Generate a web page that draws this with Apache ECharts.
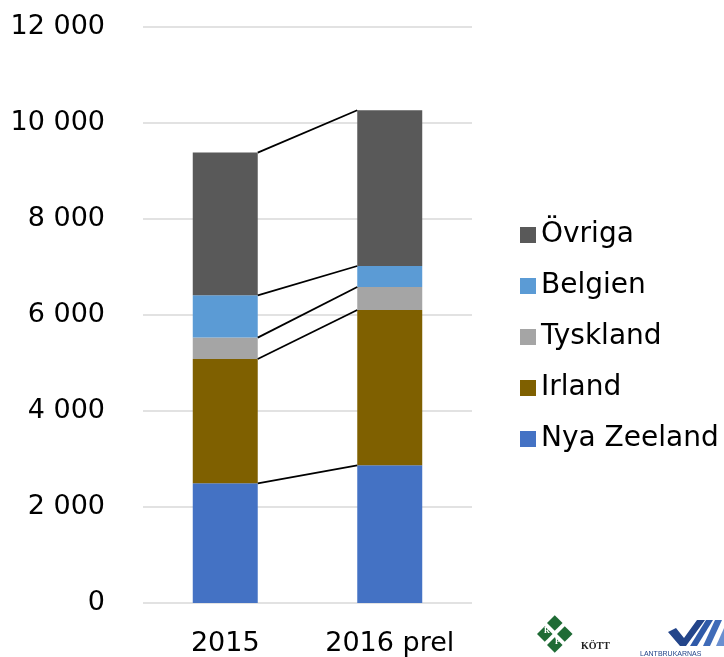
<!DOCTYPE html>
<html lang="sv">

<head>
    <meta charset="UTF-8">
    <title>Import</title>
    <script src="https://cdn.jsdelivr.net/npm/echarts@6/dist/echarts.min.js"></script>
    <style>
        html, body { margin: 0; padding: 0; background: #fff; }
    </style>
</head>

<body>
    <div id="chart" style="width: 724px; height: 657px;"></div>

    <script>
        // data (ton)
        var years = ['2015', '2016 prel'];
        var seriesNames = ['Nya Zeeland', 'Irland', 'Tyskland', 'Belgien', 'Övriga'];
        var nyaZeeland = [2494, 2869];
        var irland = [2589, 3235];
        var tyskland = [446, 479];
        var belgien = [881, 438];
        var ovriga = [2973, 3244];
        var colors = ['#4472C4', '#7F6000', '#A5A5A5', '#5B9BD5', '#595959'];

        var values = [nyaZeeland, irland, tyskland, belgien, ovriga];
        var barShare = 0.395;

        // cumulative tops for the series lines between the bars
        var tops = [];
        var sum0 = 0, sum1 = 0;
        for (var i = 0; i < values.length; i++) {
            sum0 += values[i][0];
            sum1 += values[i][1];
            tops.push([sum0, sum1]);
        }

        var series = [];
        for (var i = 0; i < seriesNames.length; i++) {
            series.push({
                name: seriesNames[i],
                type: 'bar',
                stack: 'total',
                barWidth: (barShare * 100) + '%',
                itemStyle: { color: colors[i] },
                data: values[i]
            });
        }
        series.push({
            type: 'custom',
            name: 'serieslinjer',
            silent: true,
            z: 5,
            data: tops,
            renderItem: function (params, api) {
                var p1 = api.coord([0, api.value(0)]);
                var p2 = api.coord([1, api.value(1)]);
                var hw = api.size([1, 0])[0] * barShare / 2;
                return {
                    type: 'line',
                    shape: { x1: p1[0] + hw, y1: p1[1], x2: p2[0] - hw, y2: p2[1] },
                    style: { stroke: '#000', lineWidth: 1.8 }
                };
            },
            encode: { x: -1, y: [0, 1] }
        });

        var chart = echarts.init(document.getElementById('chart'));
        var option = {
            animation: false,
            textStyle: { fontFamily: 'DejaVu Sans, sans-serif' },
            grid: { left: 143, right: 252, top: 27, bottom: 54 },
            legend: {
                data: seriesNames.slice().reverse(),
                orient: 'vertical',
                left: 515,
                top: 216,
                icon: 'rect',
                itemWidth: 16,
                itemHeight: 16,
                itemGap: 23,
                textStyle: { fontSize: 28, color: '#000', padding: [0, 0, 0, 0] }
            },
            xAxis: {
                type: 'category',
                data: years,
                axisLine: { show: false },
                axisTick: { show: false },
                axisLabel: { fontSize: 27, color: '#000', margin: 27, interval: 0 }
            },
            yAxis: {
                type: 'value',
                min: 0,
                max: 12000,
                interval: 2000,
                axisLine: { show: false },
                axisTick: { show: false },
                splitLine: { lineStyle: { color: '#D9D9D9', width: 1.5 } },
                axisLabel: {
                    fontSize: 27,
                    color: '#000',
                    margin: 38,
                    formatter: function (v) {
                        return String(v).replace(/\B(?=(\d{3})+(?!\d))/g, ' ');
                    }
                }
            },
            graphic: [
                // LRF Kött logo
                { type: 'rect', rotation: Math.PI / 4, x: 547, y: 623, shape: { x: 0, y: 0, width: 11, height: 11 }, style: { fill: '#1F6B35' } },
                { type: 'rect', rotation: Math.PI / 4, x: 537, y: 634, shape: { x: 0, y: 0, width: 11, height: 11 }, style: { fill: '#1F6B35' } },
                { type: 'rect', rotation: Math.PI / 4, x: 557, y: 634, shape: { x: 0, y: 0, width: 11, height: 11 }, style: { fill: '#1F6B35' } },
                { type: 'rect', rotation: Math.PI / 4, x: 547, y: 645, shape: { x: 0, y: 0, width: 11, height: 11 }, style: { fill: '#1F6B35' } },
                { type: 'text', x: 544, y: 627, style: { text: 'R', fill: '#fff', font: 'bold 8px Liberation Serif' } },
                { type: 'text', x: 534, y: 638, style: { text: 'L', fill: '#fff', font: 'bold 8px Liberation Serif' } },
                { type: 'text', x: 555, y: 638, style: { text: 'F', fill: '#fff', font: 'bold 8px Liberation Serif' } },
                { type: 'text', x: 581, y: 641, style: { text: 'KÖTT', fill: '#222', font: 'bold 10px Liberation Serif' } },
                // check logo
                { type: 'polygon', shape: { points: [[668, 632], [676, 628], [684, 638], [697, 620], [705, 620], [686, 646], [680, 646]] }, style: { fill: '#23458A' } },
                { type: 'polygon', shape: { points: [[690, 646], [706, 620], [713, 620], [697, 646]] }, style: { fill: '#2F5AA8' } },
                { type: 'polygon', shape: { points: [[703, 646], [715, 620], [722, 620], [710, 646]] }, style: { fill: '#3F6BB8' } },
                { type: 'polygon', shape: { points: [[716, 646], [724, 628], [724, 646]] }, style: { fill: '#6A8FD0' } },
                { type: 'text', x: 640, y: 651, style: { text: 'LANTBRUKARNAS', fill: '#23458A', font: '7px Liberation Sans' } }
            ],
            series: series
        };

        option && chart.setOption(option);
    </script>
</body>

</html>
